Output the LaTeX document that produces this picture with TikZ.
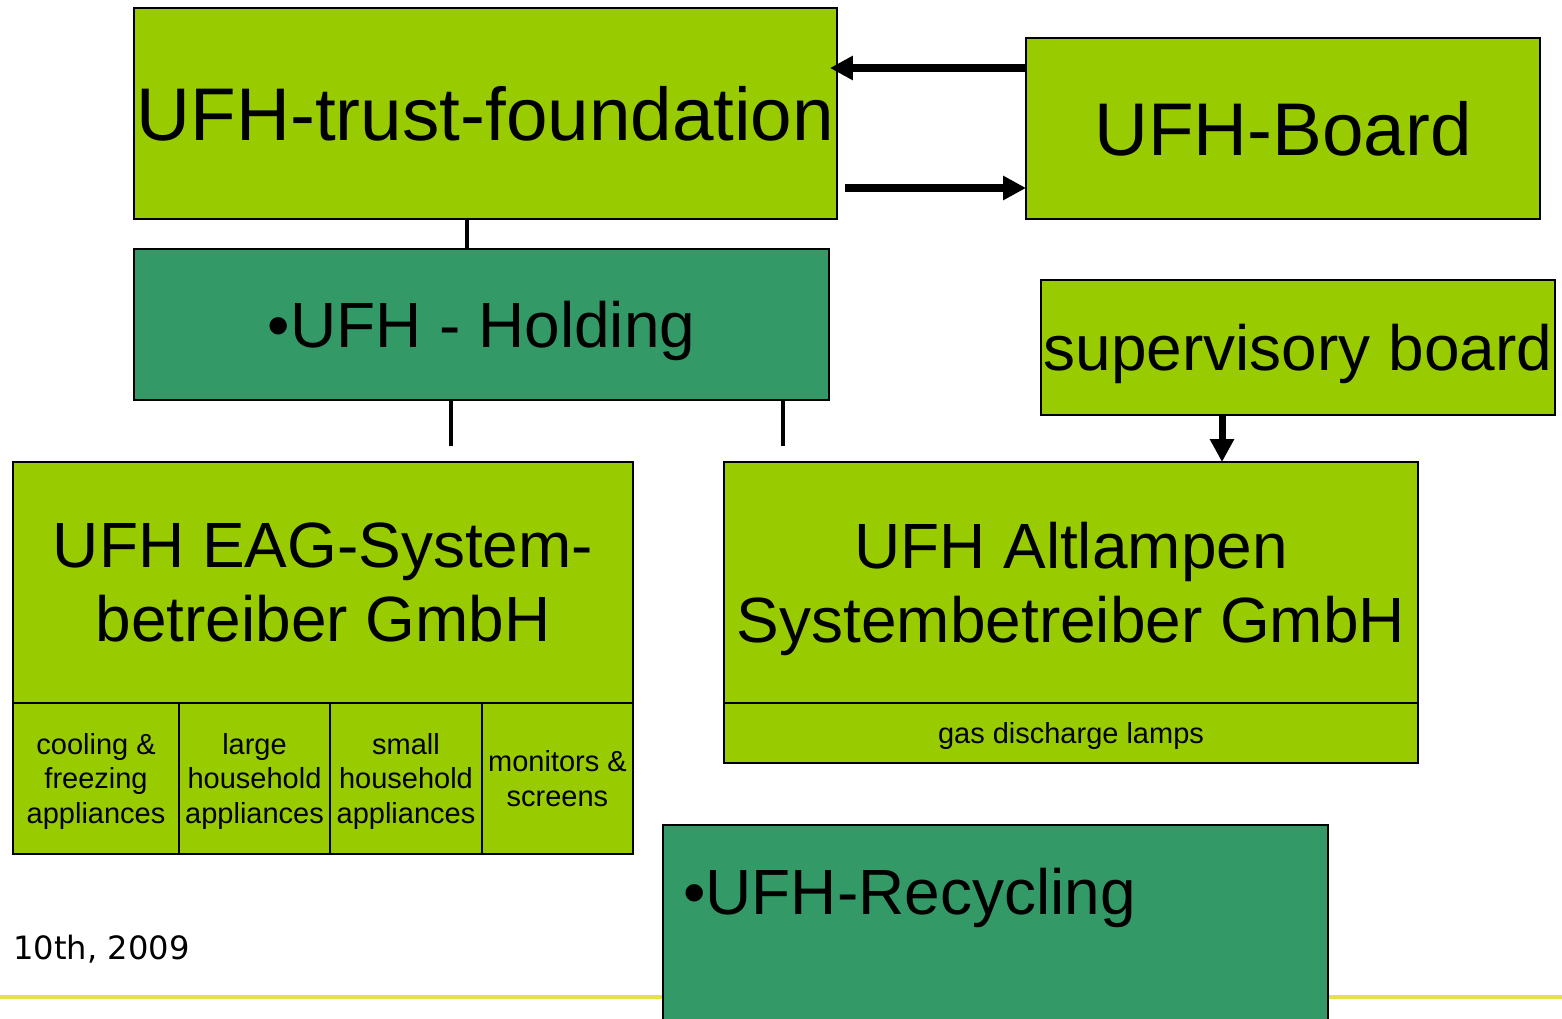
\documentclass[tikz,border=0pt]{standalone}
\usepackage{fontspec}
\setmainfont{Liberation Sans}
\newfontfamily\datefont{DejaVu Sans}
\usetikzlibrary{positioning,arrows.meta}
\definecolor{limegreen}{RGB}{153,204,0}
\definecolor{tealgreen}{RGB}{51,153,102}
\definecolor{footyellow}{RGB}{232,224,74}
\tikzset{>={Triangle[length=13pt,width=13pt]}}
\tikzset{
  unit/.style={draw, line width=1pt, fill=limegreen, inner sep=0pt, outer sep=0pt, align=center, text depth=0pt},
  company/.style={unit, fill=tealgreen},
  link/.style={line width=2.3pt},
  flow/.style={line width=4pt, ->},
  huge/.style={font=\fontsize{42.5}{50}\selectfont},
  big/.style={font=\fontsize{36.4}{42}\selectfont},
  small/.style={font=\fontsize{16.5}{19.8}\selectfont},
}

\begin{document}
\begin{tikzpicture}[x=0.02cm, y=-0.02cm]
  \useasboundingbox (0,0) rectangle (1562,1018);
  % footer line, behind the recycling box
  \draw[footyellow, line width=2.5pt] (0,997) -- (1562,997);

  \node[unit, huge, minimum width=14.06cm, minimum height=4.22cm] (trust) at (485.5,113.5) {UFH-trust-foundation};
  \node[unit, huge, minimum width=10.28cm, minimum height=3.62cm] (board) at (1283,128.5) {UFH-Board};
  \node[company, big, minimum width=13.9cm, minimum height=3.02cm] (holding) at (481.5,324.5) {•UFH - Holding};
  \node[unit, big, minimum width=10.28cm, minimum height=2.7cm] (superv) at (1298,347.5) {supervisory board};

  \node[unit, big, minimum width=12.4cm, minimum height=4.82cm] (eag) at (323,582.5) {UFH EAG-System-\\betreiber GmbH};
  \node[unit, small, anchor=north west, minimum width=3.32cm, minimum height=3.02cm] (cool) at (eag.south west) {cooling \&\\freezing\\appliances};
  \node[unit, small, right=0pt of cool, minimum width=3.02cm, minimum height=3.02cm] (large) {large\\household\\appliances};
  \node[unit, small, right=0pt of large, minimum width=3.04cm, minimum height=3.02cm] (smallhh) {small\\household\\appliances};
  \node[unit, small, right=0pt of smallhh, minimum width=3.02cm, minimum height=3.02cm] (monitors) {monitors \&\\screens};

  \node[unit, big, minimum width=13.88cm, minimum height=4.82cm] (alt) at (1071,582.5) {UFH Altlampen\\Systembetreiber GmbH};
  \node[unit, small, below=0pt of alt, minimum width=13.88cm, minimum height=1.2cm] (gas) {gas discharge lamps};

  \node[company, anchor=north west, minimum width=13.3cm, minimum height=4.2cm] (recyc) at (663,825) {};
  \node[big, anchor=west, inner sep=0pt] (recyctext) at (683,898) {•UFH-Recycling};

  \node[anchor=west, inner sep=0pt, font=\datefont\fontsize{18.3}{22}\selectfont] (date) at (13,949) {10th, 2009};

  % connectors
  \coordinate (tj) at (467,0);
  \coordinate (eagtop) at (451,446);
  \coordinate (alttop) at (783,446);
  \coordinate (sj) at (1222,0);
  \coordinate (upper) at (0,68);
  \coordinate (lower) at (0,188);
  \draw[link] (trust.south -| tj) -- (holding.north -| tj);
  \draw[link] (holding.south -| eagtop) -- (eagtop);
  \draw[link] (holding.south -| alttop) -- (alttop);
  \draw[flow, shorten >=-4pt] (board.west |- upper) -- (trust.east |- upper);
  \draw[flow, shorten <=4.5pt] (trust.east |- lower) -- (board.west |- lower);
  \draw[flow] (superv.south -| sj) -- (alt.north -| sj);
\end{tikzpicture}
\end{document}
